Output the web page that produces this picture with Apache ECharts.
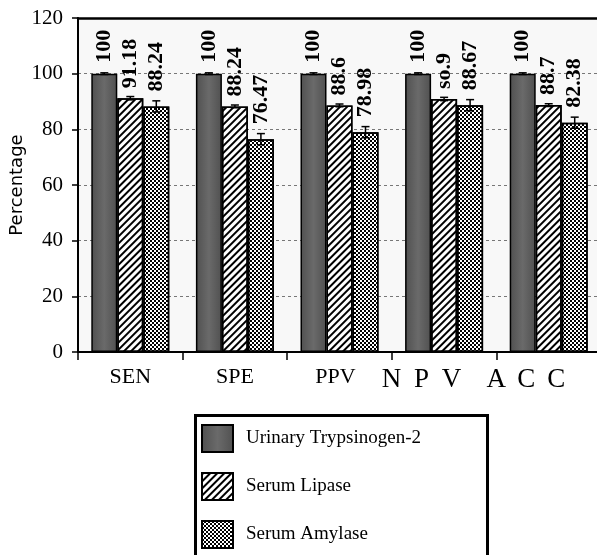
<!DOCTYPE html>
<html>
<head>
<meta charset="utf-8">
<script src="https://cdn.jsdelivr.net/npm/echarts@6/dist/echarts.min.js"></script>
<style>html,body{margin:0;padding:0;background:#fff;}#c{width:597px;height:555px;}</style>
</head>
<body>
<div id="c"></div>
<script>
var categories = ['SEN', 'SPE', 'PPV', 'NPV', 'ACC'];
var seriesNames = ['Urinary Trypsinogen-2', 'Serum Lipase', 'Serum Amylase'];
var urinary = [100, 100, 100, 100, 100];
var lipase = [91.18, 88.24, 88.6, 90.9, 88.7];
var amylase = [88.24, 76.47, 78.98, 88.67, 82.38];
var urinaryLabels = ['100', '100', '100', '100', '100'];
var lipaseLabels = ['91.18', '88.24', '88.6', 'so.9', '88.7'];
var amylaseLabels = ['88.24', '76.47', '78.98', '88.67', '82.38'];
var urinaryErr = [0.3, 0.3, 0.3, 0.3, 0.3];
var lipaseErr = [0.6, 0.5, 0.5, 0.6, 0.5];
var amylaseErr = [2, 2, 2, 2, 2];
var yTicks = [0, 20, 40, 60, 80, 100, 120];

var serif = 'Liberation Serif';
var chart = echarts.init(document.getElementById('c'));

function labelCfg(texts, dist) {
  return {
    show: true, position: 'top', rotate: 90, align: 'left', verticalAlign: 'middle',
    distance: dist, fontFamily: serif, fontSize: 22, fontWeight: 'bold', color: '#000',
    formatter: function (p) { return texts[p.dataIndex]; }
  };
}

function errSeries(vals, errs, offset) {
  return {
    type: 'custom', silent: true, z: 5,
    data: vals.map(function (v, i) { return [i, v, errs[i]]; }),
    renderItem: function (params, api) {
      var i = api.value(0), v = api.value(1), e = api.value(2);
      var hi = api.coord([i, v + e]);
      var lo = api.coord([i, v - e]);
      var x = hi[0] + offset;
      var st = { stroke: '#000', lineWidth: 1.5 };
      return { type: 'group', children: [
        { type: 'line', shape: { x1: x, y1: hi[1], x2: x, y2: lo[1] }, style: st },
        { type: 'line', shape: { x1: x - 4, y1: hi[1], x2: x + 4, y2: hi[1] }, style: st },
        { type: 'line', shape: { x1: x - 4, y1: lo[1], x2: x + 4, y2: lo[1] }, style: st }
      ]};
    }
  };
}

var barW = 26;
var darkFill = new echarts.graphic.LinearGradient(0, 0, 1, 0, [
  { offset: 0, color: '#505050' }, { offset: 0.5, color: '#6a6a6a' }, { offset: 1, color: '#505050' }
]);
chart.setOption({
  animation: false,
  backgroundColor: '#fff',
  grid: { left: 78, right: -4, top: 18, bottom: 203, outerBoundsMode: 'none', containLabel: false,
    show: true, borderWidth: 0, backgroundColor: '#f8f8f8' },
  graphic: [{
    type: 'rect', left: 193, top: 413, silent: true,
    shape: { width: 292, height: 170 },
    style: { fill: 'none', stroke: '#000', lineWidth: 3 }
  }],
  legend: {
    orient: 'vertical', left: 201, top: 424,
    data: seriesNames, icon: 'rect', itemWidth: 31, itemHeight: 27, itemGap: 19,
    padding: 0,
    textStyle: { fontFamily: serif, fontSize: 19, color: '#000', padding: [0, 0, 0, 8] }
  },
  xAxis: [{
    type: 'category', data: categories,
    axisLine: { lineStyle: { color: '#000', width: 2 } },
    axisTick: { show: true, length: 8, lineStyle: { color: '#000', width: 1.5 } },
    axisLabel: {
      interval: 0, hideOverlap: false,
      margin: 14, color: '#000', fontFamily: serif, fontSize: 22,
      formatter: function (v) {
        if (v === 'NPV' || v === 'ACC') {
          return v.split('').map(function (c) { return '{b|' + c + '}'; }).join('') + '{g|\u00a0}';
        }
        if (v === 'PPV') return '{a|' + v + '}{p|\u00a0}';
        return '{a|' + v + '}';
      },
      rich: {
        a: { fontFamily: serif, fontSize: 22, color: '#000' },
        p: { width: 8, fontSize: 22 },
        b: { fontFamily: serif, fontSize: 27, color: '#000', width: 30, align: 'center' },
        g: { width: 45, fontSize: 26 }
      }
    }
  }, {
    type: 'category', data: categories, position: 'top',
    axisLine: { show: true, lineStyle: { color: '#000', width: 2.5 } },
    axisTick: { show: false }, axisLabel: { show: false }
  }],
  yAxis: {
    type: 'value', min: yTicks[0], max: yTicks[yTicks.length - 1], interval: 20,
    name: 'Percentage', nameLocation: 'middle', nameGap: 52, nameMoveOverlap: false,
    nameTextStyle: { fontFamily: 'DejaVu Sans', fontSize: 18, color: '#000' },
    axisLine: { show: true, lineStyle: { color: '#000', width: 2 } },
    axisTick: { show: true, length: 6, lineStyle: { color: '#000', width: 1.5 } },
    axisLabel: { margin: 15, color: '#000', fontFamily: serif, fontSize: 21 },
    splitLine: { show: true, lineStyle: { color: '#777', width: 1, type: [3, 3] } }
  },
  series: [
    { name: seriesNames[0], type: 'bar', data: urinary, barWidth: barW, barGap: '0%',
      itemStyle: { color: darkFill, borderColor: '#000', borderWidth: 1.5 },
      label: labelCfg(urinaryLabels, 11) },
    { name: seriesNames[1], type: 'bar', data: lipase, barWidth: barW, barGap: '0%',
      itemStyle: { color: '#fff', borderColor: '#000', borderWidth: 1.5,
        decal: { symbol: 'rect', symbolSize: 1, dashArrayX: [1, 0], dashArrayY: [2, 3], rotation: -Math.PI / 4, color: '#000' } },
      label: labelCfg(lipaseLabels, 10) },
    { name: seriesNames[2], type: 'bar', data: amylase, barWidth: barW, barGap: '0%',
      itemStyle: { color: '#fff', borderColor: '#000', borderWidth: 1.5,
        decal: { symbol: 'rect', symbolSize: 1, dashArrayX: [[2, 2], [0, 2, 2, 0]], dashArrayY: [2, 0], color: '#000' } },
      label: labelCfg(amylaseLabels, 15) },
    errSeries(urinary, urinaryErr, -barW),
    errSeries(lipase, lipaseErr, 0),
    errSeries(amylase, amylaseErr, barW)
  ]
});
</script>
</body>
</html>
